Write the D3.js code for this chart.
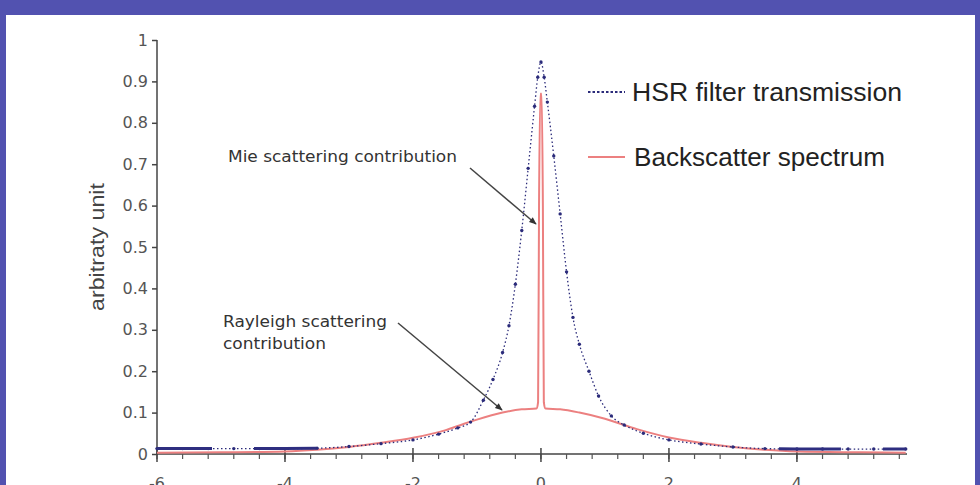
<!DOCTYPE html>
<html>
<head>
<meta charset="utf-8">
<script src="https://cdn.jsdelivr.net/npm/d3@7"></script>
<style>
  html, body { margin: 0; padding: 0; background: #5252b0; }
  svg { display: block; }
  .tick text { font-family: "DejaVu Sans", Verdana, sans-serif; fill: #555; }
</style>
</head>
<body>
<svg id="chart"></svg>
<script>
// Datos
const hsrX = [-6, -5.6, -5.2, -4.8, -4.4, -4, -3.5, -3, -2.5, -2, -1.6, -1.3, -1.1, -0.9, -0.75, -0.6, -0.5, -0.4, -0.3, -0.2, -0.1, -0.05, 0,
              0.05, 0.1, 0.2, 0.3, 0.4, 0.5, 0.6, 0.75, 0.9, 1.1, 1.3, 1.6, 2, 2.5, 3, 3.5, 4, 4.4, 4.8, 5.2, 5.7];
const hsrY = [0.013, 0.013, 0.013, 0.013, 0.013, 0.013, 0.014, 0.018, 0.025, 0.034, 0.048, 0.063, 0.077, 0.13, 0.18, 0.245, 0.31, 0.41, 0.54, 0.69, 0.84, 0.91, 0.947,
              0.91, 0.85, 0.72, 0.58, 0.44, 0.33, 0.265, 0.2, 0.14, 0.092, 0.07, 0.05, 0.034, 0.024, 0.017, 0.013, 0.012, 0.012, 0.012, 0.012, 0.012];

const bsX = [-6, -5, -4, -3.5, -3, -2.5, -2, -1.5, -1.2, -1, -0.6, -0.3, -0.07, -0.045, -0.03, -0.01, 0.01, 0.03, 0.045, 0.07, 0.3, 0.6, 1, 1.5, 2, 2.5, 3, 3.5, 4, 5, 5.7];
const bsY = [0.003, 0.004, 0.006, 0.01, 0.017, 0.027, 0.039, 0.057, 0.073, 0.083, 0.1, 0.108, 0.11, 0.125, 0.6, 0.87, 0.87, 0.6, 0.125, 0.11, 0.108, 0.1, 0.085, 0.06, 0.04, 0.027, 0.017, 0.01, 0.006, 0.004, 0.003];

const yTicks = [0, 0.1, 0.2, 0.3, 0.4, 0.5, 0.6, 0.7, 0.8, 0.9, 1];
const xMajor = [-6, -4, -2, 0, 2, 4];
const xMinor = d3.range(-6, 5.61, 0.4);

const legendLabels = ["HSR filter transmission", "Backscatter spectrum"];

const W = 980, H = 485;
const svg = d3.select("#chart").attr("width", W).attr("height", H);

// Fondo blanco
svg.append("rect").attr("x", 6).attr("y", 15).attr("width", 969).attr("height", 470).attr("fill", "#fff");

const xScale = d3.scaleLinear().domain([-6, 5.72]).range([157, 907]);
const yScale = d3.scaleLinear().domain([0, 1]).range([454, 40]);

// Eje Y
const yAxisG = svg.append("g")
    .attr("transform", `translate(${xScale(-6)},0)`)
    .call(d3.axisLeft(yScale).tickValues(yTicks).tickSize(5).tickPadding(4)
        .tickFormat(d => d === 0 ? "0" : d === 1 ? "1" : d3.format(".1f")(d)));
yAxisG.selectAll("text").style("font-size", "16px").attr("fill", "#555");
yAxisG.selectAll("line, path").attr("stroke", "#444").attr("stroke-width", 1.5);
yAxisG.select(".domain").attr("d", `M0,${yScale(1)}V${yScale(0)}`);

// Eje X
const xAxisG = svg.append("g").attr("transform", `translate(0,${yScale(0)})`);
xAxisG.append("line")
    .attr("x1", xScale(-6)).attr("x2", xScale(5.72))
    .attr("stroke", "#444").attr("stroke-width", 1.5);
xAxisG.selectAll(".minor").data(xMinor).join("line")
    .attr("x1", d => xScale(d)).attr("x2", d => xScale(d))
    .attr("y1", 0).attr("y2", 5)
    .attr("stroke", "#555").attr("stroke-width", 1.2);
xAxisG.selectAll(".major").data(xMajor).join("line")
    .attr("x1", d => xScale(d)).attr("x2", d => xScale(d))
    .attr("y1", -6).attr("y2", 8)
    .attr("stroke", "#444").attr("stroke-width", 1.5);
xAxisG.selectAll(".lbl").data(xMajor).join("text")
    .attr("x", d => xScale(d)).attr("y", 35)
    .attr("text-anchor", "middle")
    .style("font-family", "DejaVu Sans, Verdana, sans-serif")
    .style("font-size", "16px").attr("fill", "#555")
    .text(d => d);

// Título eje Y
svg.append("text")
    .attr("transform", `translate(104,${247}) rotate(-90)`)
    .attr("text-anchor", "middle")
    .style("font-family", "Liberation Sans, Arial, sans-serif")
    .style("font-size", "20px").attr("fill", "#444")
    .attr("textLength", 128).attr("lengthAdjust", "spacingAndGlyphs")
    .text("arbitraty unit");

const line = d3.line().x(d => xScale(d[0])).y(d => yScale(d[1])).curve(d3.curveMonotoneX);

const hsr = hsrX.map((x, i) => [x, hsrY[i]]);
const bs = bsX.map((x, i) => [x, bsY[i]]);

// Espectro retrodispersado
svg.append("path").datum(bs)
    .attr("d", line).attr("fill", "none")
    .attr("stroke", "#ec8080").attr("stroke-width", 2);

// Transmisión del filtro HSR
svg.append("path").datum(hsr)
    .attr("d", line).attr("fill", "none")
    .attr("stroke", "#2b2b7a").attr("stroke-width", 1.3)
    .attr("stroke-dasharray", "1.5,2.5");
svg.append("g").selectAll("circle").data(hsr).join("circle")
    .attr("cx", d => xScale(d[0])).attr("cy", d => yScale(d[1]))
    .attr("r", 1.7).attr("fill", "#2b2b7a");
// línea base: marcadores superpuestos, trazo grueso
const base = d3.line().x(d => xScale(d[0])).y(d => yScale(d[1]));
svg.append("path").datum(hsr.filter(d => d[0] <= -3.4))
    .attr("d", base).attr("fill", "none").attr("stroke", "#2e2e80")
    .attr("stroke-width", 3).attr("stroke-dasharray", "55,42,62,30");
svg.append("path").datum(hsr.filter(d => d[0] >= 3.5))
    .attr("d", base).attr("fill", "none").attr("stroke", "#2e2e80")
    .attr("stroke-width", 3).attr("stroke-dasharray", "0,14,62,42,40");

// Flechas
const defs = svg.append("defs");
defs.append("marker").attr("id", "arrow")
    .attr("viewBox", "0 0 10 10").attr("refX", 9).attr("refY", 5)
    .attr("markerWidth", 6).attr("markerHeight", 5).attr("orient", "auto")
    .append("path").attr("d", "M0,1L10,5L0,9Z").attr("fill", "#333");

const annot = svg.append("g")
    .style("font-family", "DejaVu Sans, Verdana, sans-serif")
    .style("font-size", "16px").attr("fill", "#333");
annot.append("text").attr("x", 228).attr("y", 162)
    .attr("textLength", 229).attr("lengthAdjust", "spacingAndGlyphs")
    .text("Mie scattering contribution");
annot.append("text").attr("x", 223).attr("y", 327)
    .attr("textLength", 164).attr("lengthAdjust", "spacingAndGlyphs")
    .text("Rayleigh scattering");
annot.append("text").attr("x", 223).attr("y", 349)
    .attr("textLength", 103).attr("lengthAdjust", "spacingAndGlyphs")
    .text("contribution");

svg.append("line").attr("x1", 470).attr("y1", 168).attr("x2", 536).attr("y2", 224)
    .attr("stroke", "#444").attr("stroke-width", 1.5).attr("marker-end", "url(#arrow)");
svg.append("line").attr("x1", 398).attr("y1", 323).attr("x2", 502).attr("y2", 410)
    .attr("stroke", "#444").attr("stroke-width", 1.5).attr("marker-end", "url(#arrow)");

// Leyenda
const leg = svg.append("g")
    .style("font-family", "Liberation Sans, Arial, sans-serif")
    .style("font-size", "25px").attr("fill", "#222");
leg.append("line").attr("x1", 588).attr("x2", 625).attr("y1", 92).attr("y2", 92)
    .attr("stroke", "#2b2b7a").attr("stroke-width", 2.2).attr("stroke-dasharray", "2.5,2");
leg.append("text").attr("x", 632).attr("y", 101)
    .attr("textLength", 270).attr("lengthAdjust", "spacingAndGlyphs")
    .text(legendLabels[0]);
leg.append("line").attr("x1", 588).attr("x2", 625).attr("y1", 157).attr("y2", 157)
    .attr("stroke", "#ec8080").attr("stroke-width", 2);
leg.append("text").attr("x", 634).attr("y", 166)
    .attr("textLength", 251).attr("lengthAdjust", "spacingAndGlyphs")
    .text(legendLabels[1]);
</script>
</body>
</html>
